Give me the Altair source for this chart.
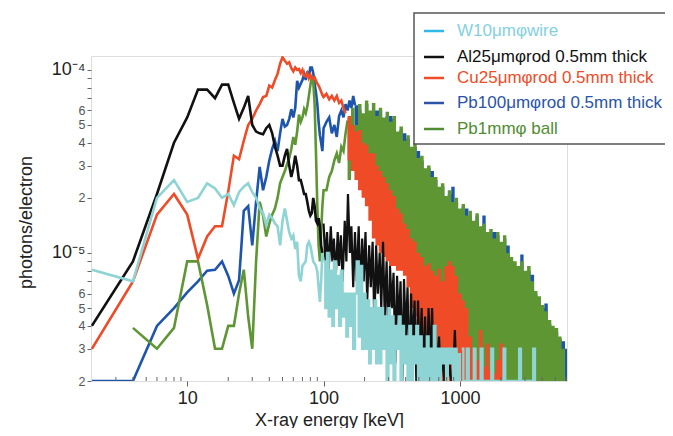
import altair as alt
import pandas as pd

# ---------------- values (keV, photons/electron) ----------------
# W10um wire
w_x = [2, 4, 6, 8, 10, 12, 14, 16, 18, 20, 22, 24, 26, 28, 30, 32, 34, 36, 38, 40,
       42, 44, 46, 48, 50, 52, 54, 56, 58, 60, 62, 64, 66, 68, 70,
       74, 76, 78, 80, 84, 88, 90, 94, 96, 98, 100]
w_y = [8.1e-6, 7.0e-6, 2.0e-5, 2.5e-5, 1.9e-5, 2.0e-5, 2.4e-5, 2.25e-5, 2.0e-5, 2.1e-5,
       1.82e-5, 2.15e-5, 2.3e-5, 2.4e-5, 2.15e-5, 2.0e-5, 1.75e-5, 1.65e-5, 1.42e-5, 1.62e-5,
       1.55e-5, 1.45e-5, 1.4e-5, 1.1e-5, 1.5e-5, 1.75e-5, 1.5e-5, 1.3e-5, 1.2e-5, 1.25e-5,
       1.05e-5, 1.15e-5, 7.5e-6, 7.0e-6, 8.5e-6,
       9e-6, 1.1e-5, 1.15e-5, 1.1e-5, 9e-6, 8.5e-6, 7.9e-6, 5.4e-6, 7e-6, 1.0e-5, 9e-6]

# Al25um rod
al_x = [2, 4, 6, 8, 10, 12, 14, 16, 18, 20, 22, 24, 26, 28, 30, 32, 34, 36, 38, 40,
        42, 44, 46, 48, 50, 52, 54, 56, 58, 60, 62, 64, 66, 68, 70, 72, 74, 76, 78, 80,
        82, 84, 86, 88, 90, 92, 94, 96, 98]
al_y = [4e-6, 9e-6, 2.1e-5, 4.0e-5, 5.5e-5, 7.8e-5, 7.8e-5, 7.0e-5, 8.3e-5, 8.3e-5,
        6.6e-5, 5.4e-5, 6.2e-5, 7.2e-5, 5.0e-5, 4.6e-5, 4.5e-5, 4.45e-5, 4.8e-5, 5.0e-5,
        4.5e-5, 3.8e-5, 3.4e-5, 3.0e-5, 3.0e-5, 3.4e-5, 3.7e-5, 3.0e-5, 2.6e-5, 2.9e-5,
        3.4e-5, 3.0e-5, 2.5e-5, 2.5e-5, 2.3e-5, 2.1e-5, 2.1e-5, 1.9e-5, 1.7e-5, 1.6e-5,
        1.65e-5, 2.0e-5, 1.8e-5, 1.5e-5, 1.45e-5, 1.55e-5, 1.4e-5, 1.1e-5, 1.0e-5]

# Cu25um rod
cu_x = [2, 4, 6, 8, 10, 12, 14, 16, 18, 20, 22, 24, 26, 28, 30, 32, 34, 36, 38, 40,
        42, 44, 46, 48, 50, 52, 54, 56, 58, 60, 62, 64, 66, 68, 70, 72, 74, 76, 78, 80,
        82, 84, 86, 88, 90, 92, 94, 96, 98, 100,
        105, 110, 115, 120, 125, 130, 135, 140, 145]
cu_y = [3e-6, 7e-6, 1.62e-5, 2.1e-5, 1.62e-5, 9.3e-6, 1.23e-5, 1.4e-5, 1.4e-5, 2.17e-5,
        3.4e-5, 3.25e-5, 4.1e-5, 5.0e-5, 5.4e-5, 6.0e-5, 6.5e-5, 7.1e-5, 7.2e-5, 8.2e-5,
        8.0e-5, 8.8e-5, 9.5e-5, 1.08e-4, 1.17e-4, 1.12e-4, 1.08e-4, 1.1e-4, 1.02e-4, 9.8e-5,
        1.03e-4, 1.0e-4, 1.01e-4, 9.6e-5, 1.0e-4, 9.3e-5, 9.2e-5, 9.6e-5, 9.0e-5, 9.4e-5,
        9.0e-5, 8.9e-5, 9.1e-5, 8.7e-5, 8.4e-5, 8.2e-5, 7.9e-5, 7.6e-5, 7.3e-5, 7.1e-5,
        7.4e-5, 6.9e-5, 7.2e-5, 6.8e-5, 7.2e-5, 6.6e-5, 6.8e-5, 6.2e-5, 5.8e-5]

# Pb100um rod
pb_x = [2, 4, 6, 8, 10, 12, 14, 16, 18, 20, 22, 24, 26, 28, 30, 32, 34, 36, 38, 40,
        42, 44, 46, 48, 50, 52, 54, 56, 58, 60, 62, 64, 66, 68, 70, 72, 74, 76, 78, 80,
        82, 84, 86, 88, 90, 92, 94, 96, 98, 100,
        105, 110, 115, 120, 125, 130, 135, 140, 145, 150, 155, 160, 165, 170]
pb_y = [2e-6, 2e-6, 4e-6, 5e-6, 6.1e-6, 7e-6, 8e-6, 8.1e-6, 9e-6, 7.5e-6,
        6e-6, 7.1e-6, 1.7e-5, 1.8e-5, 1.1e-5, 1.9e-5, 2.95e-5, 2.2e-5, 2.6e-5, 3.2e-5,
        3.7e-5, 4.1e-5, 3.6e-5, 4.5e-5, 5.4e-5, 4.9e-5, 5.0e-5, 5.4e-5, 6.1e-5, 5.5e-5,
        6.2e-5, 8.7e-5, 8.0e-5, 8.4e-5, 8.8e-5, 9.5e-5, 8.8e-5, 9.8e-5, 9.2e-5, 1.03e-4,
        1.03e-4, 9.6e-5, 8.4e-5, 7.5e-5, 6.5e-5, 5.2e-5, 4.4e-5, 4.0e-5, 3.6e-5, 4.8e-5,
        5.2e-5, 5.5e-5, 4.5e-5, 5.0e-5, 4.3e-5, 5.6e-5, 6.0e-5, 5.5e-5, 6.5e-5, 6.0e-5,
        6.8e-5, 6.2e-5, 7.2e-5, 6.4e-5]

# Pb1mm ball
ball_x = [4, 6, 8, 10, 12, 14, 16, 18, 20, 22, 24, 26, 28, 30, 32, 34, 36, 38, 40,
          42, 44, 46, 48, 50, 52, 54, 56, 58, 60, 62, 64, 66, 68, 70, 72, 74, 76, 78, 80,
          82, 84, 86, 88, 90, 92, 94, 96, 98, 100,
          105, 110, 115, 120, 125, 130, 135, 140, 145, 150]
ball_y = [3.9e-6, 3.0e-6, 3.9e-6, 9e-6, 9e-6, 5.2e-6, 3e-6, 3e-6, 4e-6, 4e-6,
          6e-6, 8.1e-6, 4.5e-6, 3e-6, 9e-6, 1.9e-5, 1.6e-5, 1.23e-5, 1.45e-5,
          1.62e-5, 1.75e-5, 2.0e-5, 2.4e-5, 2.6e-5, 2.8e-5, 3.05e-5, 3.3e-5, 3.7e-5, 4.3e-5,
          3.9e-5, 4.6e-5, 5.7e-5, 5.2e-5, 5.5e-5, 6.1e-5, 5.8e-5, 6.3e-5, 7.2e-5, 8.2e-5,
          9.2e-5, 8.6e-5, 6.5e-5, 3.5e-5, 1.8e-5, 1.1e-5, 9e-6, 1.3e-5, 1.8e-5, 2.2e-5,
          2.2e-5, 2.6e-5, 2.8e-5, 3.2e-5, 3.5e-5, 3.1e-5, 3.8e-5, 3.6e-5, 4.5e-5, 5.3e-5]

# high-energy noisy bands: energies, upper and lower edges
band_x = [150, 159, 169, 179, 190, 201, 213, 226, 240, 254,
          269, 285, 302, 320, 340, 360, 382, 405, 429, 455,
          482, 511, 542, 574, 609, 645, 684, 725, 769, 815,
          864, 915, 970, 1030, 1090, 1155, 1225, 1300, 1375, 1460,
          1545, 1640, 1740, 1840, 1950, 2070, 2190, 2320, 2460, 2610,
          2770, 2930, 3110, 3300, 3500, 3700, 3930, 4160, 4410, 4680,
          4960, 5260, 5570, 5900]
ball_hi = [5.5e-5, 6.2e-5, 5.0e-5, 6.5e-5, 5.8e-5, 6.8e-5, 6.0e-5, 6.6e-5, 5.6e-5, 6.2e-5,
           5.5e-5, 5.9e-5, 5.2e-5, 5.6e-5, 4.6e-5, 4.9e-5, 4.1e-5, 4.4e-5, 3.8e-5, 4.0e-5,
           3.3e-5, 3.4e-5, 2.9e-5, 3.0e-5, 2.6e-5, 2.6e-5, 2.3e-5, 2.4e-5, 2.05e-5, 2.2e-5,
           1.9e-5, 2.0e-5, 1.75e-5, 1.85e-5, 1.6e-5, 1.7e-5, 1.5e-5, 1.65e-5, 1.4e-5, 1.45e-5,
           1.3e-5, 1.35e-5, 1.2e-5, 1.3e-5, 1.15e-5, 1.25e-5, 1.0e-5, 9.5e-6, 9.0e-6, 8.5e-6,
           9.0e-6, 8.0e-6, 8.5e-6, 7.0e-6, 6.2e-6, 5.8e-6, 5.2e-6, 4.8e-6, 4.3e-6, 4.0e-6,
           3.9e-6, 3.5e-6, 3.0e-6, 3.0e-6]
ball_lo = [2.5e-5, 2.8e-5, 2.5e-5, 2.6e-5, 2.7e-5, 2.5e-5, 2.4e-5, 2.5e-5, 2.3e-5, 2.2e-5,
           2.1e-5, 2.0e-5, 1.9e-5, 1.8e-5, 1.6e-5, 1.5e-5, 1.3e-5, 1.2e-5, 1.0e-5, 9e-6,
           7e-6, 6e-6, 5e-6, 4e-6, 3e-6, 2e-6, 2e-6, 2e-6, 2e-6, 2e-6,
           2e-6, 2e-6, 2e-6, 2e-6, 2e-6, 2e-6, 2e-6, 2e-6, 2e-6, 2e-6,
           2e-6, 2e-6, 2e-6, 2e-6, 2e-6, 2e-6, 2e-6, 2e-6, 2e-6, 2e-6,
           2e-6, 2e-6, 2e-6, 2e-6, 2e-6, 2e-6, 2e-6, 2e-6, 2e-6, 2e-6,
           2e-6, 2e-6, 2e-6, 2e-6]
cu_band_x = band_x[:46]
cu_hi = [5.6e-5, 5.0e-5, 4.6e-5, 4.7e-5, 4.0e-5, 3.9e-5, 3.5e-5, 3.5e-5, 3.0e-5, 2.8e-5,
         2.6e-5, 2.4e-5, 2.2e-5, 2.05e-5, 1.75e-5, 1.65e-5, 1.45e-5, 1.35e-5, 1.2e-5, 1.15e-5,
         1.0e-5, 9.5e-6, 8.5e-6, 8.8e-6, 8.0e-6, 7.5e-6, 8.2e-6, 7.0e-6, 8.5e-6, 9.0e-6,
         8.5e-6, 7.5e-6, 6.0e-6, 5.5e-6, 5.0e-6, 3.5e-6, 3.0e-6, 2.6e-6, 3.8e-6, 2.4e-6,
         3.2e-6, 2.3e-6, 2.2e-6, 2.6e-6, 3.2e-6, 2.0e-6]
cu_lo = [3.2e-5, 2.8e-5, 2.5e-5, 2.2e-5, 2.0e-5, 1.8e-5, 1.5e-5, 1.2e-5, 1.1e-5, 1.0e-5,
         9.5e-6, 9.0e-6, 8.5e-6, 8.5e-6, 8.0e-6, 8.0e-6, 7.5e-6, 6.5e-6, 5.0e-6, 4.5e-6,
         4.0e-6, 3.5e-6, 3.0e-6, 2e-6, 2e-6, 2e-6, 2e-6, 2e-6, 2e-6, 2e-6,
         2e-6, 2e-6, 2e-6, 2e-6, 2e-6, 2e-6, 2e-6, 2e-6, 2e-6, 2e-6,
         2e-6, 2e-6, 2e-6, 2e-6, 2e-6, 2e-6]
pb_band_x = band_x[2:] + [6100]
pb_hi = [6.4e-5, 6.0e-5, 5.5e-5, 6.5e-5, 5.8e-5, 6.0e-5, 6.0e-5, 6.0e-5,
         5.2e-5, 5.6e-5, 5.6e-5, 5.4e-5, 4.4e-5, 4.7e-5, 4.5e-5, 4.2e-5, 3.6e-5, 3.8e-5,
         3.6e-5, 3.2e-5, 2.8e-5, 2.9e-5, 2.8e-5, 2.5e-5, 2.2e-5, 2.3e-5, 2.0e-5, 2.1e-5,
         2.3e-5, 1.9e-5, 1.7e-5, 1.8e-5, 1.75e-5, 1.6e-5, 1.45e-5, 1.6e-5, 1.35e-5, 1.6e-5,
         1.25e-5, 1.3e-5, 1.3e-5, 1.25e-5, 1.1e-5, 1.2e-5, 1.1e-5, 9.0e-6, 8.5e-6, 8.0e-6,
         9.8e-6, 7.5e-6, 8.0e-6, 7.6e-6, 6.0e-6, 5.5e-6, 5.0e-6, 5.3e-6, 4.1e-6, 3.8e-6,
         3.7e-6, 3.4e-6, 3.3e-6, 3.0e-6, 3.0e-6]
pb_lo = [3.0e-5, 2.9e-5, 2.8e-5, 2.7e-5, 2.6e-5, 2.5e-5, 2.4e-5, 2.3e-5,
         2.2e-5, 2.1e-5, 2.0e-5, 1.9e-5, 1.7e-5, 1.6e-5, 1.4e-5, 1.3e-5, 1.1e-5, 1.0e-5,
         8e-6, 7e-6, 5e-6, 4e-6, 3e-6, 2e-6, 2e-6, 2e-6, 2e-6, 2e-6,
         2e-6, 2e-6, 2e-6, 2e-6, 2e-6, 2e-6, 2e-6, 2e-6, 2e-6, 2e-6,
         2e-6, 2e-6, 2e-6, 2e-6, 2e-6, 2e-6, 2e-6, 2e-6, 2e-6, 2e-6,
         2e-6, 2e-6, 2e-6, 2e-6, 2e-6, 2e-6, 2e-6, 2e-6, 2e-6, 2e-6,
         2e-6, 2e-6, 2e-6, 2e-6, 2e-6]

# high-energy spiky parts of Al and W
comb_x = [100, 103, 106, 109, 113, 116, 119, 123, 127, 130,
          134, 138, 143, 147, 151, 156, 160, 165, 170, 175,
          181, 186, 192, 197, 203, 209, 216, 222, 229, 236,
          243, 250, 258, 265, 273, 281, 290, 299, 307, 317,
          326, 336, 346, 356, 367, 378, 389, 401, 413, 426,
          438, 452, 465, 479, 493, 508, 524, 539, 555, 572,
          589, 607, 625, 644, 663, 683, 703, 724, 746, 769,
          792, 815, 840, 865, 891, 918, 945, 974, 1000]
al_comb = [1.45e-5, 9e-6, 1.3e-5, 8e-6, 1.4e-5, 9e-6, 1.2e-5, 7.5e-6, 1.3e-5, 8.5e-6,
           1.25e-5, 7e-6, 1.5e-5, 9e-6, 2.1e-5, 1.0e-5, 1.4e-5, 6.5e-6, 1.3e-5, 7e-6,
           1.4e-5, 6e-6, 1.2e-5, 7e-6, 1.3e-5, 5.5e-6, 1.1e-5, 6.5e-6, 1.15e-5, 4e-6,
           1.1e-5, 6e-6, 1.0e-5, 5e-6, 1.15e-5, 4.5e-6, 9e-6, 3e-6, 8.5e-6, 5e-6,
           7.8e-6, 2.5e-6, 7.5e-6, 4e-6, 7e-6, 2e-6, 7.2e-6, 3.5e-6, 6.5e-6, 2e-6,
           6e-6, 3e-6, 5.5e-6, 2e-6, 5.5e-6, 2.5e-6, 5e-6, 2e-6, 4.5e-6, 2e-6,
           5e-6, 2.5e-6, 5e-6, 2e-6, 4e-6, 2e-6, 3.5e-6, 2e-6, 3e-6, 2e-6,
           3e-6, 2e-6, 2.5e-6, 2e-6, 2e-6, 3.8e-6, 2e-6, 2e-6, 2e-6]
w_comb = [9e-6, 5e-6, 1.0e-5, 4.5e-6, 8e-6, 4e-6, 9e-6, 5e-6, 7.5e-6, 4e-6,
          8e-6, 4.5e-6, 6e-6, 3.5e-6, 6e-6, 4e-6, 6e-6, 3e-6, 6e-6, 9e-6,
          3.5e-6, 8.5e-6, 3e-6, 6e-6, 3e-6, 5.5e-6, 2.5e-6, 5e-6, 3e-6, 5.5e-6,
          2.5e-6, 5e-6, 2.5e-6, 5e-6, 3e-6, 4.5e-6, 2e-6, 5e-6, 2.5e-6, 4.5e-6,
          2e-6, 4e-6, 3e-6, 4.5e-6, 2e-6, 4e-6, 2.5e-6, 3.5e-6, 2e-6, 4e-6,
          2e-6, 3.5e-6, 2.5e-6, 4e-6, 2e-6, 3.5e-6, 2e-6, 3e-6, 2e-6, 3.5e-6,
          2e-6, 3e-6, 2e-6, 4e-6, 2e-6, 3e-6, 2e-6, 3e-6, 2.5e-6, 3e-6,
          2e-6, 3e-6, 2.5e-6, 3e-6, 2e-6, 3e-6, 2e-6, 2.8e-6, 2e-6]
w_tail_x = [1030, 1060, 1125, 1160, 1265, 1300, 1420, 1465, 1700, 1750,
            2090, 2150, 2720, 2800, 3450, 3550]
w_tail_y = [3e-6, 2e-6, 3e-6, 2e-6, 3e-6, 2e-6, 3e-6, 2e-6, 3e-6, 2e-6,
            3e-6, 2e-6, 3e-6, 2e-6, 3e-6, 2e-6]

# axis ticks
y_ticks = [2e-6, 3e-6, 4e-6, 5e-6, 6e-6, 7e-6, 8e-6, 9e-6,
           1e-5, 2e-5, 3e-5, 4e-5, 5e-5, 6e-5, 7e-5, 8e-5, 9e-5, 1e-4]
x_major = [10, 100, 1000]
x_minor = [3, 4, 5, 6, 7, 8, 9, 20, 30, 40, 50, 60, 70, 80, 90,
           200, 300, 400, 500, 600, 700, 800, 900, 2000, 3000, 4000, 5000, 6000]

# legend
leg_labels = ["W10μmφwire", "Al25μmφrod 0.5mm thick", "Cu25μmφrod 0.5mm thick",
              "Pb100μmφrod 0.5mm thick", "Pb1mmφ ball"]
leg_text_colors = ["#84d0e0", "#111111", "#f04b27", "#2a54a8", "#4f8c33"]
leg_symbol_colors = ["#30b8e8", "#111111", "#f04b27", "#2a54a8", "#4f8c33"]

C_W, C_AL, C_CU, C_PB, C_BALL = "#8fd4d4", "#111111", "#f04b27", "#1d55ad", "#5e9634"

# ---------------- chart ----------------
W, H = 476, 325
xscale = alt.Scale(type="log", domain=[1.97, 6100], nice=False)
yscale = alt.Scale(type="log", domain=[2e-6, 1.19e-4], nice=False)

first = "format(datum.value, '.0e')"
lead = "slice(format(datum.value, '.0e'), 0, 1)"
xaxis = alt.Axis(values=x_major, format="d", grid=False, domain=False, tickSize=5,
                 tickColor="#666", labelFontSize=18, labelColor="#222", labelPadding=3,
                 title="X-ray energy [keV]", titleFontSize=18, titleFontWeight="normal",
                 titleColor="#222", titleY=30, titleBaseline="top")
yaxis = alt.Axis(values=y_ticks,
                 labelExpr=(f"{first} == '1e-4' ? '10⁻⁴' : {first} == '1e-5' ? '10⁻⁵' : "
                            f"(indexof(['7','8','9'], {lead}) >= 0 ? '' : {lead})"),
                 grid=False, domain=False, tickSize=4, tickColor="#666",
                 labelFontSize={"condition": {"test": f"{lead} == '1'", "value": 18}, "value": 12.5},
                 labelColor={"condition": {"test": f"{lead} == '1'", "value": "#222"}, "value": "#555"},
                 labelPadding=2,
                 title="photons/electron", titleFontSize=18, titleFontWeight="normal",
                 titleColor="#222", titleX=-65, titleY=166, titleAngle=270,
                 titleAlign="center", titleBaseline="middle")


def X():
    return alt.X("x:Q", scale=xscale, axis=xaxis)


def Y(f="y"):
    return alt.Y(f"{f}:Q", scale=yscale, axis=yaxis)


def line(xs, ys, color, interp="linear", sw=2.6):
    df = pd.DataFrame({"x": xs, "y": ys})
    return alt.Chart(df).mark_line(color=color, strokeWidth=sw, interpolate=interp,
                                   clip=True).encode(x=X(), y=Y())


def band(xs, hi, lo, color):
    df = pd.DataFrame({"x": xs, "hi": hi, "lo": lo})
    return alt.Chart(df).mark_area(color=color, opacity=1, interpolate="step-after",
                                   clip=True).encode(x=X(), y=Y("hi"), y2=alt.Y2("lo"))


layers = [
    band(pb_band_x, pb_hi, pb_lo, C_PB),
    line(pb_x, pb_y, C_PB),
    band(band_x, ball_hi, ball_lo, C_BALL),
    line(ball_x, ball_y, C_BALL),
    band(cu_band_x, cu_hi, cu_lo, C_CU),
    line(cu_x, cu_y, C_CU),
    line(al_x, al_y, C_AL),
    line(comb_x, al_comb, C_AL, sw=2.2),
    line(w_x, w_y, C_W),
    line(comb_x, w_comb, C_W, interp="step-after", sw=2.4),
    line(w_tail_x, w_tail_y, C_W, interp="step-after", sw=2.4),
]

minor = alt.Chart(pd.DataFrame({"x": x_minor})).mark_rule(color="#666", strokeWidth=1).encode(
    x=X(), y=alt.value(H - 4), y2=alt.value(H))
layers.append(minor)

one = pd.DataFrame({"a": [0]})
layers.append(alt.Chart(one).mark_rect(fill="white", stroke="#555", strokeWidth=1.5).encode(
    x=alt.value(323), x2=alt.value(800), y=alt.value(-43), y2=alt.value(88)))
leg_y = [-25, 1, 22, 47, 73]
for lab, tc, sc, yy in zip(leg_labels, leg_text_colors, leg_symbol_colors, leg_y):
    layers.append(alt.Chart(one).mark_rule(color=sc, strokeWidth=2.5).encode(
        x=alt.value(333), x2=alt.value(353), y=alt.value(yy)))
    layers.append(alt.Chart(one).mark_text(text=lab, color=tc, fontSize=17, align="left",
                                           baseline="middle", font="Liberation Sans").encode(
        x=alt.value(366), y=alt.value(yy)))

chart = alt.layer(*layers).properties(
    width=W, height=H,
    padding={"left": 83, "top": 48, "right": 98, "bottom": 47},
    autosize=alt.AutoSizeParams(type="none"),
).configure_view(stroke="#707070", strokeWidth=1.5).configure(font="Liberation Sans")

chart.save("out.html", embed_options={"renderer": "svg", "actions": False})
